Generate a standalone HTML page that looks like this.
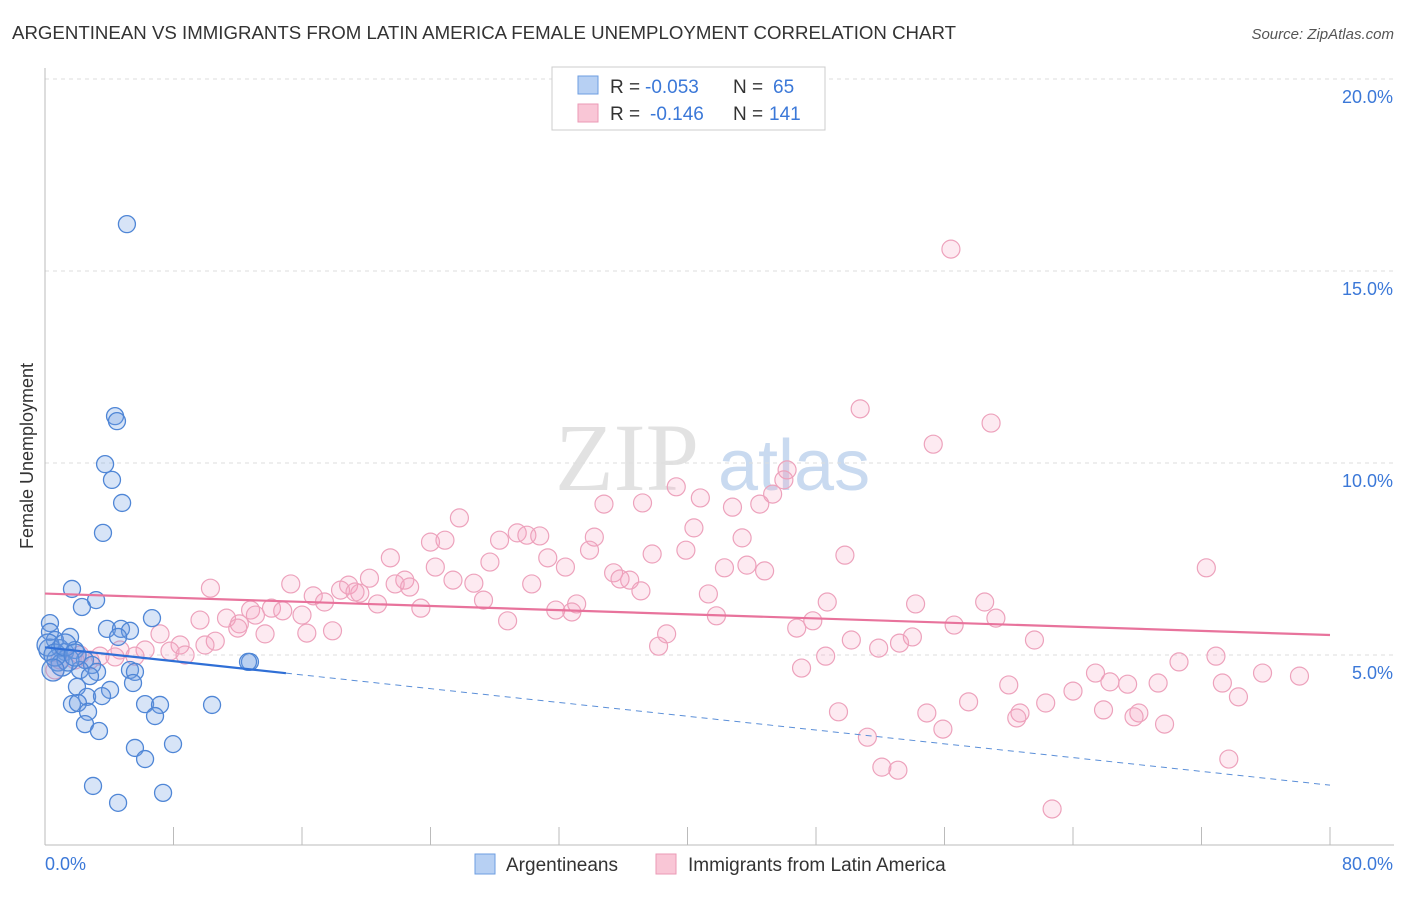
<!DOCTYPE html>
<html><head><meta charset="utf-8"><style>
body{margin:0;background:#fff;font-family:"Liberation Sans",sans-serif}
svg text{font-family:"Liberation Sans",sans-serif}
</style></head><body>
<svg id="chart" width="1406" height="892" viewBox="0 0 1406 892" xmlns="http://www.w3.org/2000/svg">
<text x="12" y="39" font-size="18.5" fill="#333" textLength="944" lengthAdjust="spacingAndGlyphs">ARGENTINEAN VS IMMIGRANTS FROM LATIN AMERICA FEMALE UNEMPLOYMENT CORRELATION CHART</text>
<text x="1394" y="39" font-size="15" fill="#555" text-anchor="end" font-style="italic">Source: ZipAtlas.com</text>
<g>
<text x="555" y="490" font-size="96" fill="#e2e2e2" style="font-family:'Liberation Serif',serif">ZIP</text>
<text x="718" y="490" font-size="72" fill="#c9daf0">atlas</text>
</g>
<g id="grid"></g>
<g id="axes"></g>
<g id="points"></g>
<g id="trends"></g>
<text transform="translate(33,456) rotate(-90)" font-size="18" fill="#333" text-anchor="middle">Female Unemployment</text>
<g>
<rect x="552" y="67" width="273" height="63" fill="#fff" stroke="#ccc"/>
<rect x="578" y="76" width="20" height="18" fill="#b7d0f3" stroke="#6e9ee0"/>
<rect x="578" y="104" width="20" height="18" fill="#f9c6d6" stroke="#eb9ab6"/>
<text x="610" y="93" font-size="19" fill="#333">R =</text>
<text x="645" y="93" font-size="19" fill="#3b78d8">-0.053</text>
<text x="733" y="93" font-size="19" fill="#333">N =</text>
<text x="773" y="93" font-size="19" fill="#3b78d8">65</text>
<text x="610" y="120" font-size="19" fill="#333">R =</text>
<text x="650" y="120" font-size="19" fill="#3b78d8">-0.146</text>
<text x="733" y="120" font-size="19" fill="#333">N =</text>
<text x="769" y="120" font-size="19" fill="#3b78d8">141</text>
</g>
<g>
<rect x="475" y="854" width="20" height="20" fill="#b7d0f3" stroke="#6e9ee0"/>
<text x="506" y="871" font-size="19" fill="#333">Argentineans</text>
<rect x="656" y="854" width="20" height="20" fill="#f9c6d6" stroke="#eb9ab6"/>
<text x="688" y="871" font-size="19" fill="#333">Immigrants from Latin America</text>
</g>
</svg>
<script>
const xTicks=[0,8,16,24,32,40,48,56,64,72,80];
const yTicks=[5,10,15,20];
const yTickLabels=["5.0%","10.0%","15.0%","20.0%"];
const xEndLabels=["0.0%","80.0%"];
const blueX=[5.1,4.36,4.48,3.74,4.17,4.8,3.61,1.68,3.18,2.3,6.66,3.86,4.73,5.29,4.55,1.56,0.31,0.31,0.62,0.93,1.25,1.87,2.49,2.93,2.18,3.24,2.8,5.29,5.6,12.76,12.64,1.99,4.05,6.23,5.48,2.62,3.55,1.68,2.05,7.16,10.4,2.68,6.85,2.49,3.36,5.6,6.23,7.97,2.99,7.35,4.55,0.31,0.81,1.06,1.43,0.19,0.62,1.25,0.5,1.87];
const blueY=[16.22,11.22,11.09,9.97,9.56,8.96,8.18,6.72,6.43,6.25,5.96,5.68,5.68,5.63,5.47,5.47,5.83,5.6,5.39,5.18,5.08,5.13,4.87,4.74,4.61,4.56,4.45,4.61,4.56,4.82,4.82,4.17,4.09,3.72,4.27,3.91,3.93,3.72,3.75,3.7,3.7,3.52,3.41,3.2,3.02,2.58,2.29,2.68,1.59,1.41,1.15,5.13,4.87,4.74,4.87,5.26,5.0,5.26,4.61,5.0];
const pinkX=[56.4,50.75,58.9,55.3,46.2,46.0,45.3,39.3,40.8,37.2,34.8,42.8,44.5,25.8,29.4,30.0,30.8,28.3,34.2,40.4,43.4,24.0,24.9,39.9,37.8,33.9,31.3,21.5,32.4,27.7,42.3,43.7,44.8,49.8,72.3,24.3,35.4,36.4,35.8,37.1,30.3,26.7,25.4,22.4,21.8,22.7,20.2,18.9,18.4,15.3,10.3,19.6,16.7,17.4,19.3,20.7,23.4,27.3,33.1,31.8,32.8,41.3,48.7,58.5,54.2,12.8,14.1,14.8,16.0,9.65,11.3,12.1,13.1,41.8,47.8,59.2,56.6,28.8,12.0,13.7,16.3,17.9,7.16,38.7,46.8,54.0,50.2,61.6,10.6,38.2,51.9,53.2,8.41,9.96,4.67,7.78,8.72,6.23,3.42,4.36,5.6,1.87,2.8,0.62,72.9,48.6,70.6,47.1,65.4,75.8,78.1,66.3,67.4,69.3,73.3,60.0,64.0,74.3,57.5,62.3,49.4,54.9,60.7,60.5,65.9,68.1,67.8,69.7,55.9,51.2,52.1,53.1,73.7,62.7,0.93,2.18];
const pinkY=[15.57,11.41,11.04,10.49,9.82,9.56,9.19,9.38,9.09,8.96,8.93,8.85,8.93,8.57,8.18,8.12,8.1,7.99,8.07,8.31,8.05,7.94,7.99,7.73,7.63,7.73,7.53,7.53,7.29,7.42,7.27,7.34,7.19,7.6,7.27,7.29,7.14,6.95,6.98,6.67,6.85,6.87,6.95,6.95,6.85,6.77,7.0,6.82,6.69,6.85,6.74,6.61,6.54,6.38,6.64,6.33,6.22,6.43,6.33,6.17,6.12,6.59,6.38,6.38,6.33,6.17,6.22,6.15,6.04,5.91,5.96,5.81,6.04,6.02,5.89,5.96,5.78,5.89,5.7,5.55,5.57,5.63,5.55,5.55,5.7,5.47,5.39,5.39,5.36,5.23,5.18,5.31,5.26,5.26,5.13,5.1,5.0,5.13,4.97,4.95,4.97,4.87,4.87,4.61,4.97,4.97,4.82,4.66,4.53,4.53,4.45,4.3,4.24,4.27,4.27,4.22,4.06,3.91,3.78,3.75,3.52,3.49,3.49,3.36,3.57,3.49,3.39,3.2,3.07,2.86,2.08,2.0,2.29,0.99,4.87,5.0];
const blueTrend=[5.2,1.61]; const blueSolidEnd=15;
const pinkTrend=[6.6,5.52];
const NS="http://www.w3.org/2000/svg";
const X0=45,X1=1330,Y0=847,PXPER=38.4;
const sx=v=>X0+(v/80)*(X1-X0);
const sy=v=>Y0-v*PXPER;
function mk(tag,attrs,parent){const e=document.createElementNS(NS,tag);for(const k in attrs)e.setAttribute(k,attrs[k]);parent.appendChild(e);return e;}
const grid=document.getElementById('grid'),axes=document.getElementById('axes'),pts=document.getElementById('points'),tr=document.getElementById('trends');
yTicks.forEach((t,i)=>{
 const l=mk('line',{x1:X0,x2:1394,y1:sy(t),y2:sy(t),stroke:'#ddd','stroke-dasharray':'4,4'},grid);
 
 
 const tx=mk('text',{x:1393,y:sy(t)+24,'font-size':18,fill:'#3b78d8','text-anchor':'end'},axes);
 tx.textContent=yTickLabels[i];
 
 
});
const ax=mk('line',{x1:X0,x2:1394,y1:845,y2:845,stroke:'#bbb'},axes);


const ay=mk('line',{x1:X0,x2:X0,y1:68,y2:845,stroke:'#bbb'},axes);


xTicks.forEach(t=>{
 const l=mk('line',{x1:sx(t),x2:sx(t),y1:827,y2:845,stroke:'#bbb'},axes);
 
 
});
[[0,'start',45],[80,'end',1393]].forEach((d,i)=>{
 const tx=mk('text',{x:d[2],y:870,'font-size':18,fill:'#3b78d8','text-anchor':d[1]},axes);
 tx.textContent=xEndLabels[i];
 
 
});
pinkX.forEach((x,i)=>{
 const c=mk('circle',{cx:sx(x),cy:sy(pinkY[i]),r:9,fill:'rgba(244,160,190,0.22)',stroke:'#eda2bc','stroke-width':1.2},pts);
 
 
});
blueX.forEach((x,i)=>{
 const c=mk('circle',{cx:sx(x),cy:sy(blueY[i]),r:i>50?11:8.5,fill:'rgba(110,158,228,0.28)',stroke:'#4f86d6','stroke-width':1.3},pts);
 
 
});
const by=v=>blueTrend[0]+(blueTrend[1]-blueTrend[0])*v/80;
const b1=mk('line',{x1:sx(0),y1:sy(by(0)),x2:sx(blueSolidEnd),y2:sy(by(blueSolidEnd)),stroke:'#2f6fd6','stroke-width':2.2},tr);


const b2=mk('line',{x1:sx(blueSolidEnd),y1:sy(by(blueSolidEnd)),x2:sx(80),y2:sy(by(80)),stroke:'#5b8fd8','stroke-width':1,'stroke-dasharray':'6,5'},tr);


const p1=mk('line',{x1:sx(0),y1:sy(pinkTrend[0]),x2:sx(80),y2:sy(pinkTrend[1]),stroke:'#e8739c','stroke-width':2.2},tr);


</script>
</body></html>
